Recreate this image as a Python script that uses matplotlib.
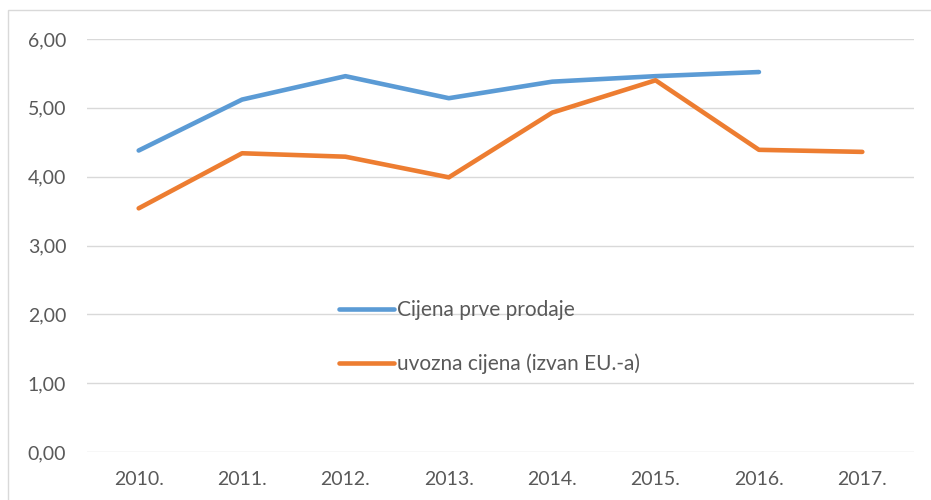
import matplotlib
matplotlib.use("Agg")
import matplotlib.pyplot as plt
from matplotlib.patches import Rectangle
import numpy as np

years = ["2010.", "2011.", "2012.", "2013.", "2014.", "2015.", "2016.", "2017."]
cijena_prve_prodaje = [4.38, 5.12, 5.46, 5.14, 5.38, 5.46, 5.52, np.nan]
uvozna_cijena = [3.54, 4.34, 4.29, 3.99, 4.93, 5.40, 4.39, 4.36]
yticks = [0, 1, 2, 3, 4, 5, 6]
ytick_labels = ["0,00", "1,00", "2,00", "3,00", "4,00", "5,00", "6,00"]

plt.rcParams['font.family'] = ['Lato', 'DejaVu Sans']

W, H = 931, 500
fig = plt.figure(figsize=(W / 100, H / 100), dpi=100)
ax = fig.add_axes([87 / W, (H - 452) / H, 827 / W, 413 / H])

x = np.arange(len(years))
ax.plot(x, cijena_prve_prodaje, color="#5B9BD5", lw=3.3, solid_capstyle="round",
        label="Cijena prve prodaje", zorder=3)
ax.plot(x, uvozna_cijena, color="#ED7D31", lw=3.3, solid_capstyle="round",
        label="uvozna cijena (izvan EU.-a)", zorder=3)

ax.set_xlim(-0.5, len(years) - 0.5)
ax.set_ylim(0, 6)
ax.set_xticks(x)
ax.set_xticklabels(years)
ax.set_yticks(yticks)
ax.set_yticklabels(ytick_labels)
ax.tick_params(axis="both", length=0, labelsize=14, labelcolor="#595959")
ax.tick_params(axis="y", pad=15)
ax.tick_params(axis="x", pad=14)
for s in ax.spines.values():
    s.set_visible(False)
ax.grid(axis="y", color="#D9D9D9", lw=1)
ax.set_axisbelow(True)

leg = ax.legend(loc="center left", bbox_to_anchor=(0.305, 0.278), frameon=False,
                fontsize=15, handlelength=2.65, handletextpad=0.1,
                labelspacing=1.62, borderpad=0, borderaxespad=0)
for t in leg.get_texts():
    t.set_color("#595959")

fig.patches.append(Rectangle((8 / W, -0.1), 1.2, (H - 10) / H + 0.1,
                             transform=fig.transFigure, fill=False,
                             edgecolor="#D9D9D9", lw=1))

fig.savefig("out.png", dpi=100)
